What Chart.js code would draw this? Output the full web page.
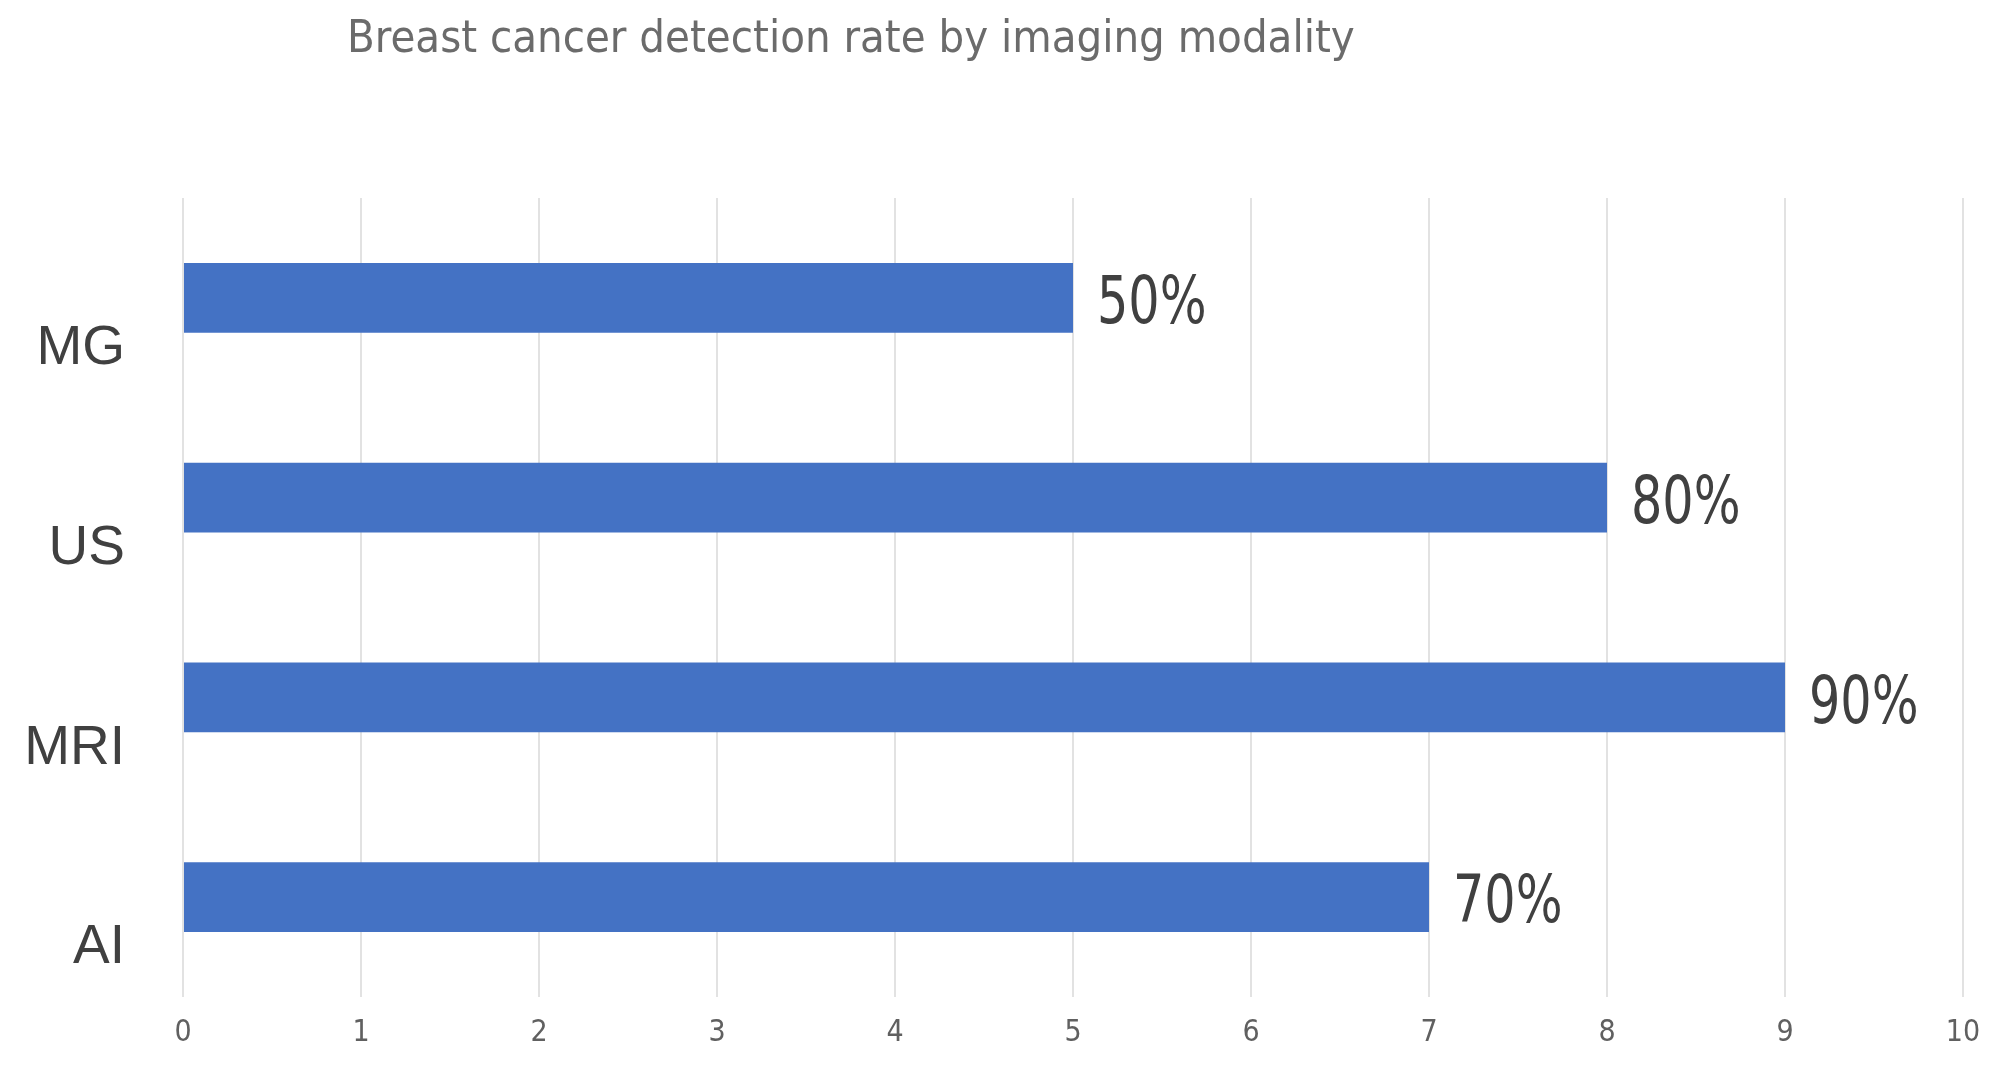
<!DOCTYPE html>
<html>
<head>
<meta charset="utf-8">
<script src="https://cdn.jsdelivr.net/npm/chart.js@4.4.1/dist/chart.umd.min.js"></script>
<style>
  html, body { margin: 0; padding: 0; background: #fff; overflow: hidden; }
  #wrap { position: relative; width: 1999px; height: 1067px; }
  #chart { display: block; }
  #title {
    position: absolute; left: 347px; top: 12px;
    font-family: "Liberation Sans Narrow", "DejaVu Sans Condensed", "Liberation Sans", sans-serif;
    font-size: 45px; line-height: 50px; color: #6b6b6b; white-space: nowrap;
  }
</style>
</head>
<body>
<div id="wrap">
  <div id="title">Breast cancer detection rate by imaging modality</div>
  <canvas id="chart" width="1999" height="1067"></canvas>
</div>
<script>
const categories = ["MG", "US", "MRI", "AI"];
const detection = [5, 8, 9, 7];
const valueLabels = ["50%", "80%", "90%", "70%"];
const xTicks = [0, 1, 2, 3, 4, 5, 6, 7, 8, 9, 10];

const narrow = '"Liberation Sans Narrow", "DejaVu Sans Condensed", sans-serif';

// percent labels at the end of each bar (a bit squeezed, like the original font)
const barLabels = {
  id: "barLabels",
  afterDatasetsDraw(chart) {
    const ctx = chart.ctx;
    const meta = chart.getDatasetMeta(0);
    const squeeze = 0.83;
    ctx.save();
    ctx.font = "66px " + narrow;
    ctx.fillStyle = "#404040";
    ctx.textAlign = "left";
    ctx.textBaseline = "middle";
    meta.data.forEach((bar, i) => {
      ctx.save();
      ctx.translate(bar.x + 24, bar.y + 8);
      ctx.scale(squeeze, 1);
      ctx.fillText(valueLabels[i], 0, 0);
      ctx.restore();
    });
    ctx.restore();
  }
};

new Chart(document.getElementById("chart"), {
  type: "bar",
  data: {
    labels: categories,
    datasets: [{
      data: detection,
      backgroundColor: "#4472c4",
      barPercentage: 0.35,
      categoryPercentage: 1
    }]
  },
  options: {
    indexAxis: "y",
    responsive: false,
    devicePixelRatio: 1,
    animation: false,
    layout: { padding: { top: 198, right: 36, bottom: 0, left: 0 } },
    plugins: {
      legend: { display: false },
      tooltip: { enabled: false },
      title: { display: false }
    },
    scales: {
      x: {
        min: 0,
        max: 10,
        afterBuildTicks: (axis) => { axis.ticks = xTicks.map(v => ({ value: v })); },
        grid: { color: "#e2e2e2", lineWidth: 2, drawTicks: false },
        border: { display: false },
        ticks: {
          color: "#606060",
          font: { family: narrow, size: 30 },
          padding: 18
        },
        afterFit: (axis) => { axis.height = 70; }
      },
      y: {
        grid: { display: false },
        border: { display: false },
        ticks: {
          color: "#404040",
          font: { family: '"Liberation Sans", sans-serif', size: 55 },
          padding: 50,
          labelOffset: 51
        },
        afterFit: (axis) => {
          axis.width = 183;
          axis.paddingTop = 0;
          axis.paddingBottom = 0;
        }
      }
    }
  },
  plugins: [barLabels]
});
</script>
</body>
</html>
